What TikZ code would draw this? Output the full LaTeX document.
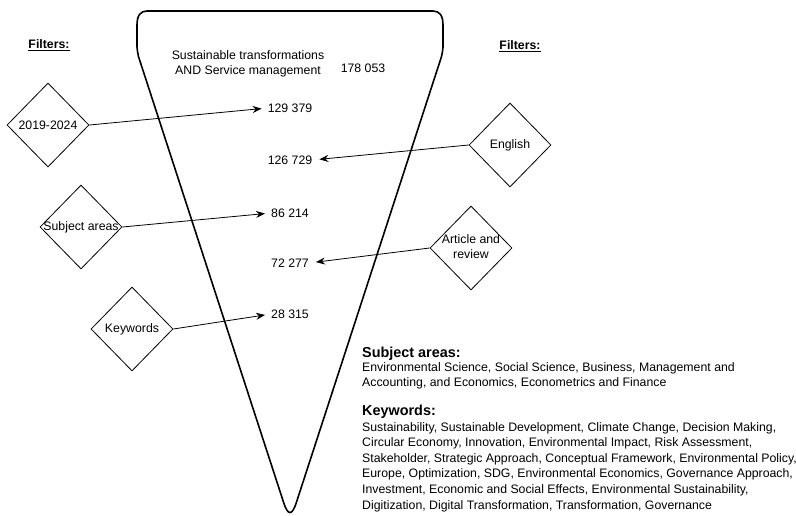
\documentclass[tikz,border=0pt]{standalone}
\usepackage{fontspec}
\setmainfont{Liberation Sans}
\usetikzlibrary{shapes.geometric,arrows.meta}
\begin{document}
\begin{tikzpicture}[x=1pt,y=-1pt,
  filt/.style={diamond,draw,line width=0.8pt,minimum width=82pt,minimum height=84pt,
    inner sep=0pt,font=\fontsize{12.3}{14.5}\selectfont},
  count/.style={inner sep=0pt,font=\fontsize{12.3}{15}\selectfont},
  link/.style={line width=0.8pt,-{Stealth[length=9pt,width=7pt]}},
  heading/.style={inner sep=0pt,font=\bfseries\fontsize{12.3}{14}\selectfont},
  listhead/.style={anchor=base west,inner sep=0pt,font=\bfseries\fontsize{14.4}{16}\selectfont},
  listline/.style={anchor=base west,inner sep=0pt,font=\fontsize{12.3}{14}\selectfont}]
\useasboundingbox (0,0) rectangle (796,515);

% funnel outline: flat top, short vertical shoulders, sides meeting in a rounded tip
\draw[line width=1.6pt]
  (147,11) -- (433,11)
  .. controls (439.7,11) and (443,15.7) .. (443,25)
  -- (443,47)
  .. controls (443,50.3) and (441.97,53.58) .. (441.45,56.75)
  -- (296.2,503)
  .. controls (292.1,515.7) and (287.9,515.7) .. (283.8,503)
  -- (138.55,56.75)
  .. controls (138.03,53.58) and (137,50.3) .. (137,47)
  -- (137,25)
  .. controls (137,15.7) and (140.3,11) .. (147,11)
  -- cycle;

% headings
\node[heading] (fl) at (49,45) {\underline{Filters:}};
\node[heading] (fr) at (520,46) {\underline{Filters:}};

% query and counts
\node[count,align=center] (q) at (248,63.5) {Sustainable transformations\\AND Service management};
\node[count] (n0) at (363,68) {178 053};
\node[count] (n1) at (290,108) {129 379};
\node[count] (n2) at (290,160) {126 729};
\node[count] (n3) at (290,213) {86 214};
\node[count] (n4) at (290,263) {72 277};
\node[count] (n5) at (290,314) {28 315};

% filter diamonds
\node[filt] (dyear) at (48,125) {2019-2024};
\node[filt] (deng) at (510,145) {English};
\node[filt] (dsub) at (81,227) {\makebox[0pt]{Subject areas}};
\node[filt] (dart) at (471,248) {\makebox[0pt]{\begin{tabular}{@{}c@{}}Article and\\review\end{tabular}}};
\node[filt] (dkey) at (132,329) {Keywords};

% filter arrows
\draw[link,shorten >=6pt] (dyear.east) -- (n1.west);
\draw[link,shorten >=7pt] (deng.west) -- (n2.east);
\draw[link,shorten >=6pt] (dsub.east) -- (n3.west);
\draw[link,shorten >=7pt] (dart.west) -- (n4.east);
\draw[link,shorten >=6pt] (dkey.east) -- (n5.west);

% filter details
\node[listhead] (sh) at (362,357) {Subject areas:};
\node[listline] (s1) at (362,371) {Environmental Science, Social Science, Business, Management and};
\node[listline] (s2) at (362,386.6) {Accounting, and Economics, Econometrics and Finance};
\node[listhead] (kh) at (362,415) {Keywords:};
\node[listline] (k1) at (362,431) {Sustainability, Sustainable Development, Climate Change, Decision Making,};
\node[listline] (k2) at (362,446.6) {Circular Economy, Innovation, Environmental Impact, Risk Assessment,};
\node[listline] (k3) at (362,462.2) {Stakeholder, Strategic Approach, Conceptual Framework, Environmental Policy,};
\node[listline] (k4) at (362,477.8) {Europe, Optimization, SDG, Environmental Economics, Governance Approach,};
\node[listline] (k5) at (362,493.4) {Investment, Economic and Social Effects, Environmental Sustainability,};
\node[listline] (k6) at (362,509) {Digitization, Digital Transformation, Transformation, Governance};
\end{tikzpicture}
\end{document}
